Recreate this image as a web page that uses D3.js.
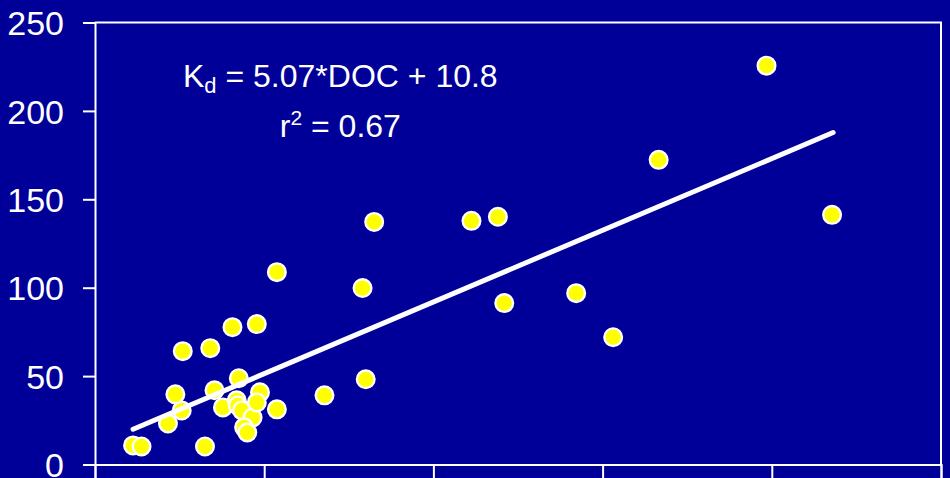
<!DOCTYPE html>
<html>
<head>
<meta charset="utf-8">
<script src="https://cdn.jsdelivr.net/npm/d3@7"></script>
<style>
  html, body { margin: 0; padding: 0; background: #000099; }
  svg { display: block; font-family: "Liberation Sans", Arial, sans-serif; }
</style>
</head>
<body>
<svg width="950" height="478"></svg>
<script>
// DOC values (x) and Kd values (y)
var doc = [1.8, 2.2, 5.2, 3.45, 4.1, 3.8, 4.15, 5.45, 5.65, 6.05, 6.5, 7.65,
           6.8, 6.7, 6.75, 6.95, 7.45, 7.05, 7.2, 7.8, 7.65, 8.6, 8.6, 10.85,
           12.65, 12.8, 13.2, 17.8, 19.05, 19.35, 22.75, 24.5, 26.65, 31.75, 34.85];
var kd  = [10.8, 10.2, 10.2, 23.2, 30.6, 39.7, 64.1, 65.8, 42.0, 32.3, 77.7, 79.4,
           48.8, 36.3, 33.4, 30.6, 26.6, 21.0, 18.1, 40.8, 35.1, 31.2, 108.8, 39.1,
           99.8, 48.2, 137.2, 137.8, 140.1, 91.3, 96.9, 72.0, 172.3, 225.6, 141.2];

// regression Kd = 5.07*DOC + 10.8, drawn over this DOC range
var slope = 5.07, intercept = 10.8;
var fitRange = [1.8, 34.9];

var xTicks = [0, 8, 16, 24, 32, 40];
var yTicks = [0, 50, 100, 150, 200, 250];

var svg = d3.select("svg"),
    width = +svg.attr("width"),
    height = +svg.attr("height");

var margin = {top: 22.5, right: 9, bottom: 13.5, left: 95};

var x = d3.scaleLinear().domain([0, 40]).range([margin.left, width - margin.right]);
var y = d3.scaleLinear().domain([0, 250]).range([height - margin.bottom, margin.top]);

svg.append("rect")
    .attr("width", width)
    .attr("height", height)
    .attr("fill", "#000099");

// frame (top and right sides)
svg.append("path")
    .attr("d", "M" + x(0) + "," + y(250) + "H" + x(40) + "V" + y(0))
    .attr("fill", "none")
    .attr("stroke", "white")
    .attr("stroke-width", 2);

var xAxis = svg.append("g")
    .attr("transform", "translate(0," + y(0) + ")")
    .call(d3.axisBottom(x).tickValues(xTicks).tickSize(14).tickFormat(""));

var yAxis = svg.append("g")
    .attr("transform", "translate(" + x(0) + ",0)")
    .call(d3.axisLeft(y).tickValues(yTicks).tickSize(12).tickPadding(19));

[xAxis, yAxis].forEach(function(g) {
    g.select(".domain").attr("stroke", "white").attr("stroke-width", 2);
    g.selectAll(".tick line").attr("stroke", "white").attr("stroke-width", 2);
});
yAxis.selectAll(".tick text")
    .attr("fill", "white")
    .style("font-size", "34px")
    .attr("dy", "0.36em");

// points
var pts = doc.map(function(d, i) { return {doc: d, kd: kd[i]}; });

svg.append("g").selectAll("circle")
    .data(pts)
    .enter().append("circle")
        .attr("cx", function(d) { return x(d.doc); })
        .attr("cy", function(d) { return y(d.kd); })
        .attr("r", 8.8)
        .attr("fill", "#ffff00")
        .attr("stroke", "white")
        .attr("stroke-width", 2.4);

// fitted line
var line = d3.line()
    .x(function(d) { return x(d); })
    .y(function(d) { return y(slope * d + intercept); });

svg.append("path")
    .datum(fitRange)
    .attr("d", line)
    .attr("stroke", "white")
    .attr("stroke-width", 5)
    .attr("stroke-linecap", "round")
    .attr("fill", "none");

// equation
var eqX = 11.6;
var t1 = svg.append("text")
    .attr("x", x(eqX))
    .attr("y", y(213.5))
    .attr("text-anchor", "middle")
    .attr("fill", "white")
    .style("font-size", "32px");
t1.append("tspan").text("K");
t1.append("tspan").text("d").style("font-size", "22px").attr("dy", 6);
t1.append("tspan").text(" = 5.07*DOC + 10.8").attr("dy", -6);

var t2 = svg.append("text")
    .attr("x", x(eqX))
    .attr("y", y(185.2))
    .attr("text-anchor", "middle")
    .attr("fill", "white")
    .style("font-size", "32px");
t2.append("tspan").text("r");
t2.append("tspan").text("2").style("font-size", "21px").attr("dy", -12);
t2.append("tspan").text(" = 0.67").attr("dy", 12);
</script>
</body>
</html>
